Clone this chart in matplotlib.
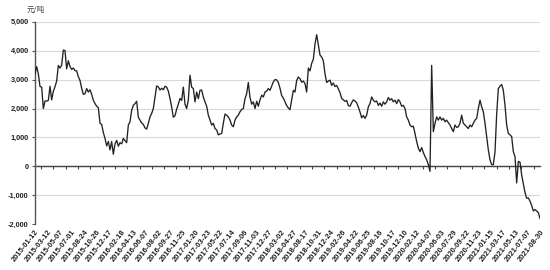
import numpy as np
import matplotlib
matplotlib.use("Agg")
import matplotlib.pyplot as plt
from matplotlib.ticker import FixedLocator, FuncFormatter

plt.rcParams['font.family'] = ['Liberation Sans', 'Noto Sans CJK SC', 'DejaVu Sans']

unit_label = "元/吨"

values_part1 = [
    3200, 3450, 3200, 2760, 2740, 2000, 2260, 2260, 2280, 2770,
    2300, 2600, 2750, 2950, 3490, 3400, 3500, 4020, 4000, 3370,
    3650, 3450, 3350, 3400, 3310, 3300, 3100, 2970, 2700, 2490,
    2510, 2690, 2570, 2650, 2490, 2290, 2170, 2080, 2030, 1490,
    1450, 1170, 970, 710, 860, 570, 860, 420, 780, 900,
    700, 820, 780, 970, 890, 820, 1430, 1540, 1940, 2110,
    2170, 2250, 1700, 1600, 1500, 1450, 1330, 1290, 1490, 1710,
    1830, 2000, 2400, 2780, 2750, 2640, 2700, 2650, 2770, 2740,
    2600, 2350, 2050, 1700, 1750, 1980, 2150, 2350, 2280, 2740,
    2150, 2000, 2300, 3150, 2740, 2690, 2230, 2570, 2340, 2630,
    2640, 2400, 2230, 2080, 1770, 1600, 1430, 1490, 1310, 1260,
    1090, 1120, 1140, 1490, 1810, 1770, 1710, 1600, 1430, 1370,
    1600, 1710, 1770, 1890, 1970, 2000, 2340, 2510, 2900, 2380,
    2150, 2230, 2000, 2250, 2080, 2300, 2460, 2400, 2570, 2600,
    2690, 2630, 2780, 2920, 3000, 2990, 2900, 2700, 2450, 2360,
    2230, 2100, 2020, 1960,
]

values_part2 = [
    2290, 2630, 2570, 2970, 3090, 3030, 2910, 2950, 2860, 2570,
    3400, 3300, 3560, 3700, 4230, 4550, 4200, 3850, 3780, 3650,
    3200, 2900, 2950, 2980, 2800, 2880, 2760, 2800, 2680, 2550,
    2350, 2300, 2250, 2280, 2100, 2080, 2200, 2300, 2260, 2200,
    2050, 1880, 1680, 1760, 1660, 1770, 2060, 2170, 2400, 2290,
    2230, 2260, 2110, 2190, 2080, 2230, 2150, 2230, 2380, 2290,
    2340, 2230, 2290, 2170, 2310, 2230, 2080, 2110, 2000, 1710,
    1600, 1430, 1370, 1390, 1140, 860, 630, 510, 650, 480,
    340, 230, 60, -170, 3490, 1200, 1490, 1710, 1600, 1710,
    1600, 1660, 1540, 1600, 1510, 1430, 1310, 1200, 1430, 1350,
    1370, 1490, 1770, 1490, 1430, 1370, 1310, 1430, 1370, 1490,
    1600, 1660, 2000, 2290, 2060, 1890, 1490, 1030, 570, 230,
    60, 60, 500, 1800, 2690, 2770, 2830, 2630, 2110, 1430,
    1140, 1090, 1030, 510, 340, -570, 170, 150, -300, -600,
    -900, -1100, -1090, -1200, -1350, -1540, -1490, -1540, -1600, -1800,
]

date_labels = [
    "2015-01-12", "2015-03-12", "2015-05-07", "2015-07-01", "2015-08-24",
    "2015-10-26", "2015-12-17", "2016-02-18", "2016-04-13", "2016-06-07",
    "2016-08-02", "2016-09-27", "2016-11-25", "2017-01-20", "2017-03-23",
    "2017-05-22", "2017-07-14", "2017-09-06", "2017-11-03", "2017-12-27",
    "2018-03-02", "2018-04-27", "2018-08-17", "2018-10-31", "2018-12-24",
    "2019-02-26", "2019-04-22", "2019-06-25", "2019-08-16", "2019-10-17",
    "2019-12-10", "2020-02-12", "2020-04-07", "2020-06-03", "2020-07-29",
    "2020-09-22", "2020-11-23", "2021-01-15", "2021-03-17", "2021-05-13",
    "2021-07-07", "2021-08-30",
]

y_ticks = [-2000, -1000, 0, 1000, 2000, 3000, 4000, 5000]

values = np.array(values_part1 + values_part2, dtype=float)
x = np.arange(len(values))

fig = plt.figure(figsize=(5.5, 2.7), dpi=100)
ax = fig.add_axes([35 / 550, 1 - 224.3 / 270, 505 / 550, (224.3 - 21.7) / 270])

# gridlines
for yv in y_ticks:
    ax.axhline(yv, color='#d9d9d9', lw=0.8, zorder=0)

ax.plot(x, values, color='#222222', lw=0.95, zorder=3)

ax.set_xlim(0, len(values) - 1)
ax.set_ylim(-2000, 5000)

for s in ['top', 'right', 'bottom']:
    ax.spines[s].set_visible(False)
ax.spines['left'].set_color('#555555')
ax.spines['left'].set_linewidth(1.0)

ax.yaxis.set_major_locator(FixedLocator(y_ticks))
ax.yaxis.set_major_formatter(FuncFormatter(lambda v, p: f"{int(v):,}"))
ax.tick_params(axis='y', length=2.5, width=0.8, color='#555555', pad=2,
               labelsize=5.3, labelcolor='#222222')
for lab in ax.get_yticklabels():
    lab.set_fontweight('bold')

# category labels at bottom
label_pos = np.linspace(0, len(values) - 1, len(date_labels))
ax.set_xticks(label_pos)
ax.set_xticklabels(date_labels, rotation=52, ha='right', va='top',
                   rotation_mode='anchor', fontsize=5.4, fontweight='bold',
                   color='#222222')
ax.tick_params(axis='x', length=0, pad=3)

# horizontal axis line crossing at zero with tick marks between categories
sec = ax.secondary_xaxis(2 / 7)
half = (label_pos[1] - label_pos[0]) / 2
sec.set_xticks(label_pos[:-1] + half * 0.97)
sec.set_xticklabels([])
sec.spines['bottom'].set_color('#444444')
sec.spines['bottom'].set_linewidth(1.0)
sec.tick_params(axis='x', direction='out', length=2.5, width=0.8, color='#444444')

fig.text(27 / 550, 1 - 10 / 270, unit_label, fontsize=5.5, color='#444444',
         va='center', ha='left', family=['Noto Sans CJK SC', 'DejaVu Sans'])

fig.savefig("out.png", dpi=100)
